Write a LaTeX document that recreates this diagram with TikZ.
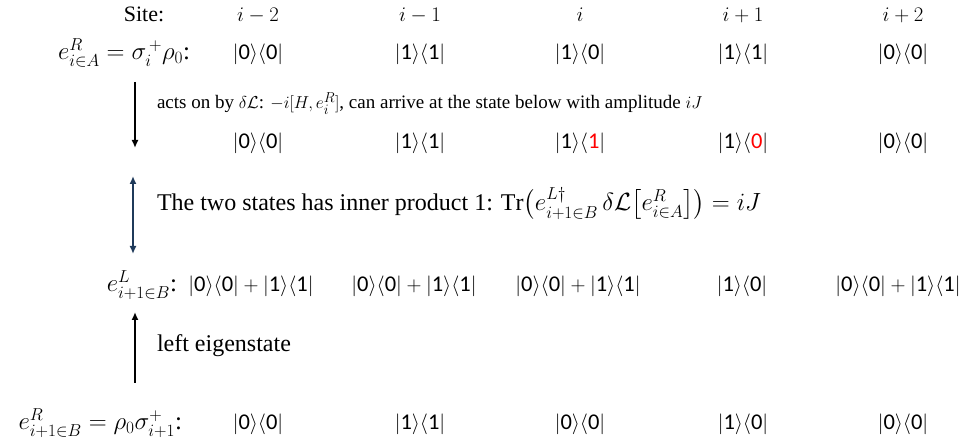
\documentclass[tikz,border=0pt]{standalone}
\usepackage{amsmath}
\usepackage{fontspec}
\setmainfont{Liberation Serif}
\newfontfamily\carl{Carlito}
\usetikzlibrary{arrows.meta}
\definecolor{navy}{HTML}{1F3A5A}
\newcommand\kb[2]{$|\text{\carl #1}\rangle\langle\text{\carl #2}|$}
\newcommand\kbsum{$|\text{\carl 0}\rangle\langle\text{\carl 0}|+|\text{\carl 1}\rangle\langle\text{\carl 1}|$}
\begin{document}
\begin{tikzpicture}[x=1pt,y=-1pt,
  every node/.style={inner sep=0pt,outer sep=0pt,font=\fontsize{22.5}{26}\selectfont},
  cell/.style={anchor=base},
  site/.style={anchor=base,font=\fontsize{21}{25}\selectfont},
  lab/.style={anchor=base east,font=\fontsize{25}{29}\selectfont},
  txt/.style={anchor=base west,font=\fontsize{19}{23}\selectfont},
  bigtxt/.style={anchor=base west,font=\fontsize{24}{28}\selectfont},
  arr/.style={line width=2pt,-{Latex[length=8pt,width=7pt]}},
  darr/.style={line width=2pt,navy,{Latex[length=8pt,width=7pt]}-{Latex[length=8pt,width=7pt]}}]
\useasboundingbox (0,0) rectangle (975,443);
% row 0: sites
\node[site,font=\fontsize{22}{26}\selectfont] (site) at (144,22) {Site:};
\node[site] (s1) at (258,22) {$i-2$};
\node[site] (s2) at (420,22) {$i-1$};
\node[site] (s3) at (580,22) {$i$};
\node[site] (s4) at (743,22) {$i+1$};
\node[site] (s5) at (903,22) {$i+2$};
% row 1
\node[lab] (l1) at (190,60) {$e^R_{i\in A}=\sigma_i^{\,+}\rho_0$:};
\node[cell] (a1) at (258,60) {\kb00};
\node[cell] (a2) at (420,60) {\kb11};
\node[cell] (a3) at (580,60) {\kb10};
\node[cell] (a4) at (743,60) {\kb11};
\node[cell] (a5) at (903,60) {\kb00};
% arrow 1
\coordinate (d1s) at (135,82);
\coordinate (d1e) at (135,148);
\draw[arr] (d1s) -- (d1e);
\node[txt] (t1) at (157,109) {acts on by $\delta\mathcal{L}$: $-i[H,e_i^R]$, can arrive at the state below with amplitude $iJ$};
% row 2
\node[cell] (b1) at (258,149) {\kb00};
\node[cell] (b2) at (420,149) {\kb11};
\node[cell] (b3) at (580,149) {\kb{1}{\textcolor{red}{1}}};
\node[cell] (b4) at (743,149) {\kb{1}{\textcolor{red}{0}}};
\node[cell] (b5) at (903,149) {\kb00};
% double arrow
\coordinate (d2s) at (133,176);
\coordinate (d2e) at (133,254);
\draw[darr] (d2s) -- (d2e);
\node[bigtxt] (t2) at (157,211) {The two states has inner product 1: $\mathrm{Tr}\bigl(e^{L\dagger}_{i+1\in B}\,\delta\mathcal{L}\bigl[e^R_{i\in A}\bigr]\bigr)=iJ$};
% row 3
\node[lab] (l3) at (177,292) {$e^L_{i+1\in B}$:};
\node[cell] (c1) at (251,292) {\kbsum};
\node[cell] (c2) at (414,292) {\kbsum};
\node[cell] (c3) at (578,292) {\kbsum};
\node[cell] (c4) at (742,292) {\kb10};
\node[cell] (c5) at (898,292) {\kbsum};
% arrow 3
\coordinate (d3s) at (135,383);
\coordinate (d3e) at (135,312);
\draw[arr] (d3s) -- (d3e);
\node[bigtxt] (t3) at (157,352) {left eigenstate};
% row 4
\node[lab] (l4) at (182,430) {$e^R_{i+1\in B}=\rho_0\sigma_{i+1}^{+}$:};
\node[cell] (e1) at (258,430) {\kb00};
\node[cell] (e2) at (420,430) {\kb11};
\node[cell] (e3) at (580,430) {\kb00};
\node[cell] (e4) at (743,430) {\kb10};
\node[cell] (e5) at (903,430) {\kb00};
\end{tikzpicture}
\end{document}
